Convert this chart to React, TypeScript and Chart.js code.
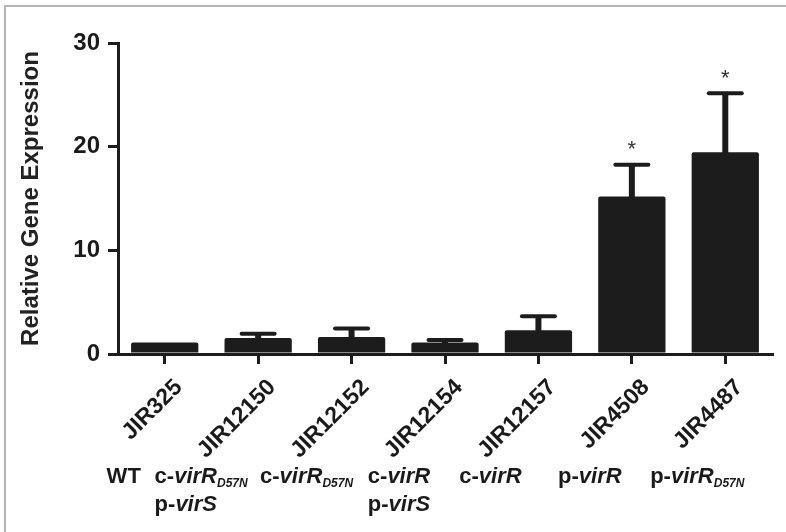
import React, { useEffect, useRef } from "react";
import { Chart, registerables } from "chart.js";

Chart.register(...registerables);

// ---------- data ----------
const strains = ["JIR325", "JIR12150", "JIR12152", "JIR12154", "JIR12157", "JIR4508", "JIR4487"];
const expression = [1.1, 1.55, 1.65, 1.1, 2.3, 15.2, 19.45];
const sem = [0, 0.4, 0.8, 0.25, 1.35, 3.05, 5.7];
const significant = [false, false, false, false, false, true, true];
// markup: *italic*  _{subscript}
const genotypes = [
  ["WT"],
  ["c-*virR*_{D57N}", "p-*virS*"],
  ["c-*virR*_{D57N}"],
  ["c-*virR*", "p-*virS*"],
  ["c-*virR*"],
  ["p-*virR*"],
  ["p-*virR*_{D57N}"],
];
const yTicks = [0, 10, 20, 30];
const yTitle = "Relative Gene Expression";

// ---------- layout / style ----------
const FONT = '"Liberation Sans", Arial, Helvetica, sans-serif';
const INK = "#1c1c1c";
const TEXT = "#1a1a1a";
const genotypeNudge = [-41, -57, -45, -46, -48, -42, -28];

type Seg = { t: string; k: "n" | "i" | "s" };
function parseMarkup(s: string): Seg[] {
  const segs: Seg[] = [];
  const re = /\*([^*]+)\*|_\{([^}]+)\}|([^*_]+)/g;
  let m: RegExpExecArray | null;
  while ((m = re.exec(s))) {
    if (m[1]) segs.push({ t: m[1], k: "i" });
    else if (m[2]) segs.push({ t: m[2], k: "s" });
    else segs.push({ t: m[3], k: "n" });
  }
  return segs;
}
function segFont(k: Seg["k"]) {
  if (k === "n") return `bold 22px ${FONT}`;
  if (k === "i") return `italic bold 22px ${FONT}`;
  return `italic bold 12px ${FONT}`;
}

const framePlugin = {
  id: "frame",
  beforeDraw(chart: any) {
    const ctx = chart.ctx;
    ctx.save();
    ctx.fillStyle = "#ffffff";
    ctx.fillRect(0, 0, chart.width, chart.height);
    ctx.fillStyle = "#b4b4b4";
    ctx.fillRect(4, 5, 2, chart.height - 5);
    ctx.fillRect(4, 5, chart.width - 4, 2);
    ctx.restore();
  },
};

const errorBarPlugin = {
  id: "errorBars",
  afterDatasetsDraw(chart: any) {
    const ctx = chart.ctx;
    const y = chart.scales.y;
    const meta = chart.getDatasetMeta(0);
    ctx.save();
    meta.data.forEach((bar: any, i: number) => {
      const cx = bar.x;
      const top = y.getPixelForValue(expression[i]);
      const up = y.getPixelForValue(expression[i] + sem[i]);
      if (sem[i] > 0) {
        ctx.fillStyle = INK;
        ctx.fillRect(cx - 3, up, 6, top - up + 1);
        ctx.strokeStyle = INK;
        ctx.lineWidth = 4;
        ctx.lineCap = "round";
        ctx.beginPath();
        ctx.moveTo(cx - 16.5, up);
        ctx.lineTo(cx + 16.5, up);
        ctx.stroke();
      }
      if (significant[i]) {
        ctx.fillStyle = "#333333";
        ctx.font = `22px ${FONT}`;
        ctx.textAlign = "center";
        ctx.textBaseline = "alphabetic";
        ctx.fillText("*", cx, up - 21 + 12.5);
      }
    });
    ctx.restore();
  },
};

const genotypePlugin = {
  id: "genotypes",
  afterDraw(chart: any) {
    const ctx = chart.ctx;
    const x = chart.scales.x;
    const base = chart.chartArea.bottom + 129;
    ctx.save();
    ctx.fillStyle = TEXT;
    ctx.textAlign = "left";
    ctx.textBaseline = "alphabetic";
    genotypes.forEach((lines, i) => {
      const parsed = lines.map(parseMarkup);
      const widths = parsed.map((segs) =>
        segs.reduce((w, s) => {
          ctx.font = segFont(s.k);
          return w + ctx.measureText(s.t).width;
        }, 0)
      );
      const blockW = Math.max(...widths);
      const cx = x.getPixelForValue(i) + genotypeNudge[i];
      const left = cx - blockW / 2;
      parsed.forEach((segs, li) => {
        let px = left;
        const by = base + li * 28;
        segs.forEach((s) => {
          ctx.font = segFont(s.k);
          ctx.fillText(s.t, px, s.k === "s" ? by + 4 : by);
          px += ctx.measureText(s.t).width;
        });
      });
    });
    ctx.restore();
  },
};

export default function App() {
  const ref = useRef<HTMLCanvasElement>(null);
  useEffect(() => {
    const chart = new Chart(ref.current as HTMLCanvasElement, {
      type: "bar",
      data: {
        labels: strains,
        datasets: [
          {
            data: expression,
            backgroundColor: INK,
            borderWidth: 0,
            borderRadius: 2,
            categoryPercentage: 1,
            barPercentage: 0.72,
          },
        ],
      },
      options: {
        responsive: false,
        animation: false,
        devicePixelRatio: 1,
        layout: { padding: { top: 43, right: 14, left: 0, bottom: 0 } },
        plugins: { legend: { display: false }, tooltip: { enabled: false } },
        scales: {
          x: {
            type: "category",
            offset: true,
            grid: {
              display: true,
              drawOnChartArea: false,
              drawTicks: true,
              tickLength: 10,
              offset: false,
              color: INK,
              lineWidth: 3,
            },
            border: { display: true, color: INK, width: 3 },
            ticks: {
              autoSkip: false,
              maxRotation: 45,
              minRotation: 45,
              padding: 10,
              labelOffset: 14,
              color: TEXT,
              font: { family: FONT, size: 23, weight: "bold" },
            },
            afterFit: (s: any) => {
              s.height = 178;
            },
          },
          y: {
            min: 0,
            max: 30,
            afterBuildTicks: (s: any) => {
              s.ticks = yTicks.map((v) => ({ value: v }));
            },
            grid: {
              display: true,
              drawOnChartArea: false,
              drawTicks: true,
              tickLength: 10,
              color: INK,
              lineWidth: 3,
            },
            border: { display: true, color: INK, width: 3 },
            ticks: {
              padding: 8,
              color: TEXT,
              font: { family: FONT, size: 24, weight: "bold" },
            },
            title: {
              display: true,
              text: yTitle,
              color: "#222222",
              font: { family: FONT, size: 24, weight: "bold" },
              padding: { top: 17, bottom: 0 },
            },
            afterFit: (s: any) => {
              s.width = 118;
            },
          },
        },
      } as any,
      plugins: [framePlugin, errorBarPlugin, genotypePlugin],
    });
    return () => chart.destroy();
  }, []);
  return (
    <div style={{ position: "absolute", left: 0, top: 0, width: 786, height: 532, background: "#fff" }}>
      <canvas ref={ref} width={786} height={532} style={{ display: "block", width: 786, height: 532 }} />
    </div>
  );
}
